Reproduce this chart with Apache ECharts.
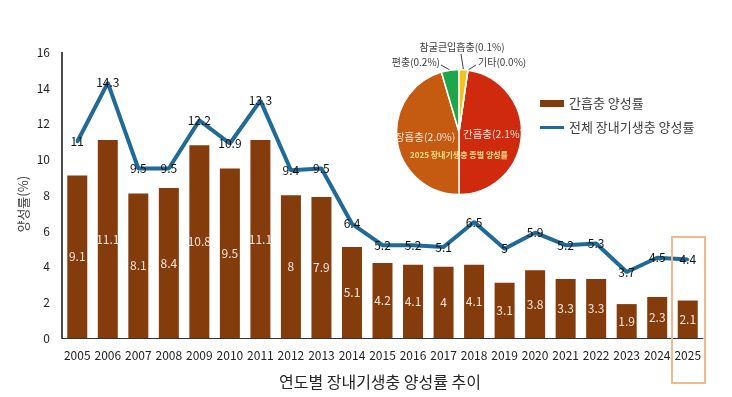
<!DOCTYPE html>
<html>
<head>
<meta charset="utf-8">
<script src="https://cdn.jsdelivr.net/npm/echarts@6/dist/echarts.min.js"></script>
<style>
    html, body { margin: 0; padding: 0; background: #fff; }
    #chart { width: 732px; height: 397px; }
</style>
</head>
<body>
<div id="chart"></div>
<script>
// data
const years = ['2005', '2006', '2007', '2008', '2009', '2010', '2011', '2012', '2013', '2014', '2015',
    '2016', '2017', '2018', '2019', '2020', '2021', '2022', '2023', '2024', '2025'];
const clonorchisRate = [9.1, 11.1, 8.1, 8.4, 10.8, 9.5, 11.1, 8, 7.9, 5.1, 4.2,
    4.1, 4, 4.1, 3.1, 3.8, 3.3, 3.3, 1.9, 2.3, 2.1];
const totalRate = [11, 14.3, 9.5, 9.5, 12.2, 10.9, 13.3, 9.4, 9.5, 6.4, 5.2,
    5.2, 5.1, 6.5, 5, 5.9, 5.2, 5.3, 3.7, 4.5, 4.4];
const yTicks = [0, 2, 4, 6, 8, 10, 12, 14, 16];

const pieNames = ['간흡충', '장흡충', '편충', '참굴큰입흡충', '기타'];
const pieValues = [2.1, 2.0, 0.2, 0.1, 0.0];
const pieColors = ['#cf2a0e', '#c55a11', '#1ea64a', '#f5c21b', '#bfbfbf'];

const FONT = '"Noto Sans CJK KR", "Noto Sans", sans-serif';
const pieCenter = [459, 132];

// where the small slice labels sit (relative to pie centre)
const outsideLabels = {
    2: { dx: -19, dy: -70, align: 'right', end: [-18, -67] },
    3: { dx: 3, dy: -85, align: 'center', end: [2, -78] },
    4: { dx: 19, dy: -70, align: 'left', end: [17, -67] }
};

const myChart = echarts.init(document.getElementById('chart'));

const option = {
    animation: false,
    textStyle: { fontFamily: FONT },
    grid: { left: 62, right: 29, top: 52.5, bottom: 59, outerBoundsMode: 'none', containLabel: false },
    legend: {
        orient: 'vertical',
        left: 535,
        top: 92,
        itemGap: 11,
        itemWidth: 24,
        itemHeight: 7,
        textStyle: { fontSize: 13, color: '#404040', fontFamily: FONT },
        data: [
            { name: '간흡충 양성률', icon: 'rect' },
            { name: '전체 장내기생충 양성률', icon: 'path://M0,0H24V3H0Z' }
        ]
    },
    xAxis: {
        type: 'category',
        data: years,
        axisLine: { lineStyle: { color: '#333', width: 1 } },
        axisTick: { show: false },
        axisLabel: { color: '#222', fontSize: 12, margin: 11, interval: 0 }
    },
    yAxis: {
        type: 'value',
        min: yTicks[0],
        max: yTicks[yTicks.length - 1],
        interval: 2,
        name: '양성률(%)',
        nameLocation: 'middle',
        nameGap: 32,
        nameMoveOverlap: false,
        nameTextStyle: { fontSize: 13, color: '#404040', padding: [0, 18, 0, 0] },
        axisLine: { show: true, lineStyle: { color: '#111', width: 1.5 } },
        axisTick: { show: false },
        splitLine: { show: false },
        axisLabel: { color: '#222', fontSize: 12, margin: 12 }
    },
    series: [
        {
            name: '간흡충 양성률',
            type: 'bar',
            data: clonorchisRate,
            barWidth: 20,
            itemStyle: { color: '#843c0c' },
            label: {
                show: true,
                position: 'inside',
                color: '#fbe5d6',
                fontSize: 12
            }
        },
        {
            name: '전체 장내기생충 양성률',
            type: 'line',
            data: totalRate,
            symbol: 'circle',
            symbolSize: 3,
            itemStyle: { color: '#1f6a97' },
            lineStyle: { color: '#1f6a97', width: 4 },
            label: {
                show: true,
                position: 'inside',
                color: '#111',
                fontSize: 12
            },
            z: 3
        },
        {
            type: 'pie',
            center: pieCenter,
            radius: 62.5,
            startAngle: 90 - pieValues[3] / 4.4 * 360,
            clockwise: true,
            legendHoverLink: false,
            silent: true,
            itemStyle: { borderColor: '#fff', borderWidth: 1.5 },
            data: pieNames.map((name, i) => ({
                name: name,
                value: pieValues[i],
                itemStyle: { color: pieColors[i] },
                label: i < 2
                    ? { position: 'inside', color: '#fbe5d6', fontSize: 10.5 }
                    : { position: 'outside', color: '#404040', fontSize: 10 },
                labelLine: { show: i >= 2, lineStyle: { color: '#404040', width: 1 } }
            })),
            label: {
                show: true,
                formatter: (p) => `${p.name}(${p.value.toFixed(1)}%)`
            },
            labelLine: { length: 8, length2: 0 },
            labelLayout: function (params) {
                const o = outsideLabels[params.dataIndex];
                if (!o) return {};
                const start = params.labelLinePoints ? params.labelLinePoints[0] : null;
                const end = [pieCenter[0] + o.end[0], pieCenter[1] + o.end[1]];
                const res = {
                    x: pieCenter[0] + o.dx,
                    y: pieCenter[1] + o.dy,
                    align: o.align,
                    verticalAlign: 'middle'
                };
                if (start) res.labelLinePoints = [start, end, end];
                return res;
            }
        }
    ],
    graphic: [
        {
            type: 'text',
            x: 459,
            y: 155,
            style: {
                text: '2025 장내기생충 종별 양성률',
                fill: '#ffe08a',
                font: 'bold 8px ' + FONT,
                textAlign: 'center',
                textVerticalAlign: 'middle'
            },
            z: 100
        },
        {
            type: 'rect',
            shape: { x: 672, y: 237, width: 33, height: 146 },
            style: { fill: 'none', stroke: '#efb98c', lineWidth: 2 },
            z: 100
        },
        {
            type: 'text',
            x: 380,
            y: 382,
            style: {
                text: '연도별 장내기생충 양성률 추이',
                fill: '#262626',
                font: '16px ' + FONT,
                textAlign: 'center',
                textVerticalAlign: 'middle'
            }
        }
    ]
};

option && myChart.setOption(option);
</script>
</body>
</html>
